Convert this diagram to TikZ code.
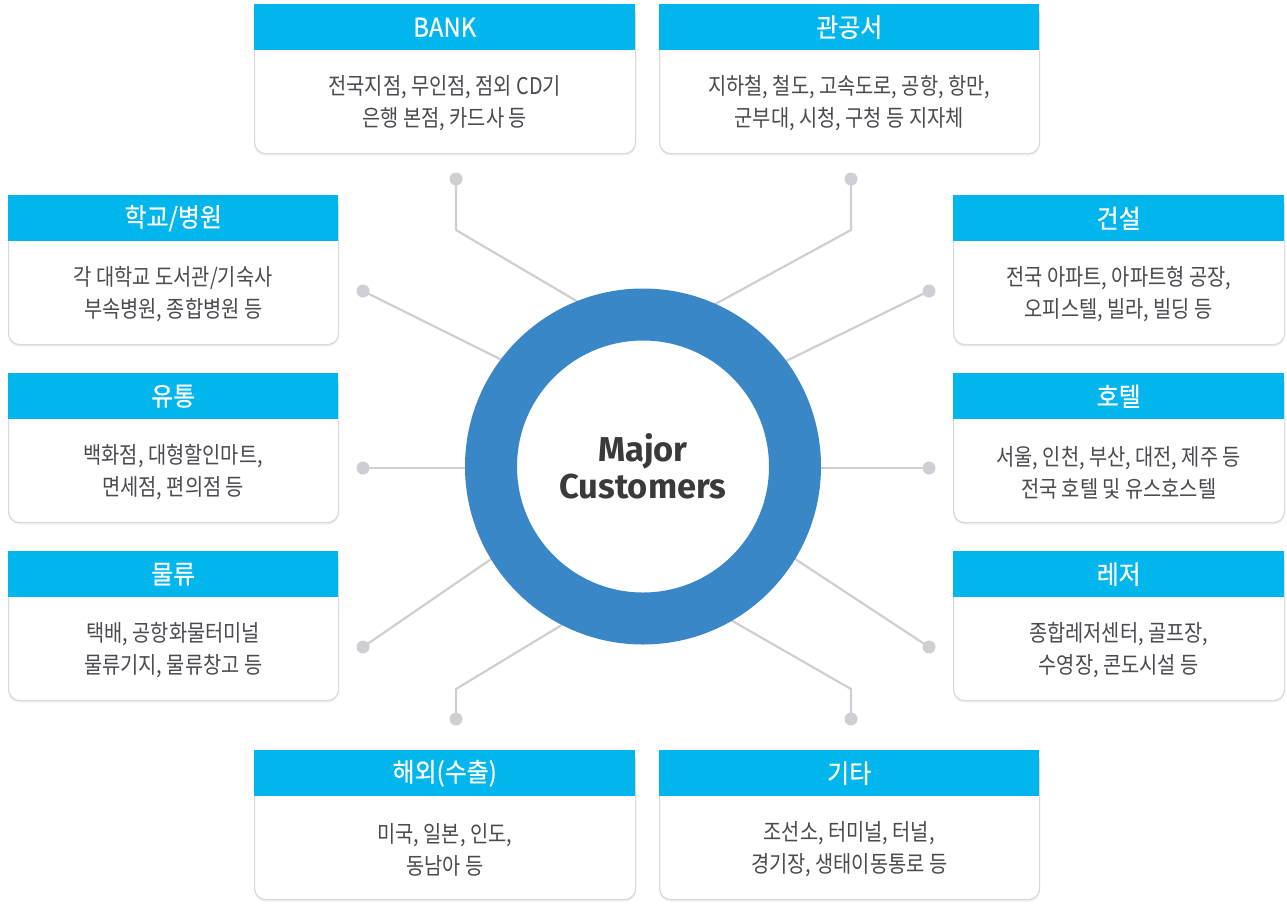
\documentclass[tikz,border=0pt]{standalone}
\usepackage{fontspec}
\setmainfont{Noto Sans CJK KR}
\newfontfamily\condkr{Noto Sans CJK KR}[FakeStretch=0.86]
\newfontfamily\headkr{Noto Sans CJK KR}[FakeStretch=0.92, FakeBold=0.6]
\newfontfamily\majfont{Fira Sans}
\usetikzlibrary{shadows}
\definecolor{hdrcyan}{HTML}{00B6EC}
\definecolor{ringblue}{HTML}{3A87C7}
\definecolor{connGrey}{HTML}{CFCFD3}
\definecolor{boxline}{HTML}{D9D9DC}
\definecolor{bodytxt}{HTML}{4A4A50}
\definecolor{majtxt}{HTML}{3A3A3C}
\tikzset{
  boxbody/.style={draw=boxline, line width=1.2pt, fill=white, rounded corners=11pt, inner sep=0pt,
    drop shadow={opacity=0.12, shadow xshift=0pt, shadow yshift=-2pt}},
  boxhead/.style={fill=hdrcyan, text=white, minimum height=46pt, inner sep=0pt,
    font=\headkr\fontsize{26}{28}\selectfont},
  boxtext/.style={text=bodytxt, align=center, font=\condkr\fontsize{23}{32}\selectfont, inner sep=0pt},
  conn/.style={draw=connGrey, line width=2.2pt, line join=round},
  cdot/.style={circle, fill=connGrey, minimum size=13pt, inner sep=0pt},
  ringnode/.style={circle, draw=ringblue, line width=52pt, fill=white, minimum size=304pt, inner sep=0pt,
    text=majtxt, align=center, font=\majfont\bfseries\fontsize{34.5}{37}\selectfont}
}
\newcommand\custbox[7]{%
  \node[boxbody, minimum width=#4pt, minimum height=149pt, anchor=north west] (#1) at (#2,#3) {};
  \node[boxhead, minimum width=#4pt, anchor=north west] (#1h) at (#2,#3) {#5};
  \node[boxtext] (#1t) at ([yshift=-53pt]#1h.south) {#6\\#7};
}
\begin{document}
\begin{tikzpicture}[x=1pt,y=-1pt]
\useasboundingbox (0,0) rectangle (1287,903);
% boxes
\custbox{bank}{254}{4}{381}{BANK}{전국지점, 무인점, 점외 CD기}{은행 본점, 카드사 등}
\custbox{gov}{659}{4}{380}{관공서}{지하철, 철도, 고속도로, 공항, 항만,}{군부대, 시청, 구청 등 지자체}
\custbox{school}{8}{195}{330}{학교/병원}{각 대학교 도서관/기숙사}{부속병원, 종합병원 등}
\custbox{retail}{8}{373}{330}{유통}{백화점, 대형할인마트,}{면세점, 편의점 등}
\custbox{logis}{8}{551}{330}{물류}{택배, 공항화물터미널}{물류기지, 물류창고 등}
\custbox{build}{953}{195}{331}{건설}{전국 아파트, 아파트형 공장,}{오피스텔, 빌라, 빌딩 등}
\custbox{hotel}{953}{373}{331}{호텔}{서울, 인천, 부산, 대전, 제주 등}{전국 호텔 및 유스호스텔}
\custbox{leisure}{953}{551}{331}{레저}{종합레저센터, 골프장,}{수영장, 콘도시설 등}
\custbox{abroad}{254}{750}{381}{해외(수출)}{미국, 일본, 인도,}{동남아 등}
\custbox{etc}{659}{750}{380}{기타}{조선소, 터미널, 터널,}{경기장, 생태이동통로 등}
% connector dots
\node[cdot] (d1) at (456,179) {};
\node[cdot] (d2) at (851,179) {};
\node[cdot] (d3) at (363,291) {};
\node[cdot] (d4) at (363,468) {};
\node[cdot] (d5) at (363,647) {};
\node[cdot] (d6) at (929,291) {};
\node[cdot] (d7) at (929,468) {};
\node[cdot] (d8) at (929,647) {};
\node[cdot] (d9) at (456,719) {};
\node[cdot] (d10) at (851,719) {};
% bends and ends
\coordinate (b1) at (456,230);
\coordinate (b2) at (851,230);
\coordinate (b9) at (456,689);
\coordinate (b10) at (851,689);
\coordinate (e1) at (585,306);
\coordinate (e2) at (708,308);
\coordinate (e3) at (510,364);
\coordinate (e4) at (480,468);
\coordinate (e5) at (500,553);
\coordinate (e6) at (780,364);
\coordinate (e7) at (806,468);
\coordinate (e8) at (786,553);
\coordinate (e9) at (570,620);
\coordinate (e10) at (722,615);
\draw[conn] (d1.center) -- (b1) -- (e1);
\draw[conn] (d2.center) -- (b2) -- (e2);
\draw[conn] (d3.center) -- (e3);
\draw[conn] (d4.center) -- (e4);
\draw[conn] (d5.center) -- (e5);
\draw[conn] (d6.center) -- (e6);
\draw[conn] (d7.center) -- (e7);
\draw[conn] (d8.center) -- (e8);
\draw[conn] (d9.center) -- (b9) -- (e9);
\draw[conn] (d10.center) -- (b10) -- (e10);
% center ring
\node[ringnode] (ring) at (643,466.5) {Major\\Customers};
\end{tikzpicture}
\end{document}
